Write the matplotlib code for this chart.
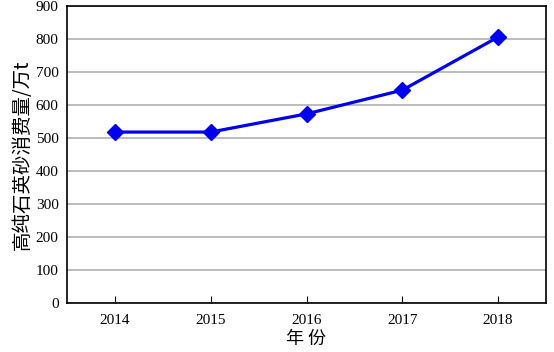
import matplotlib
matplotlib.use("Agg")
import matplotlib.pyplot as plt

years = ["2014", "2015", "2016", "2017", "2018"]
values = [518, 518, 573, 645, 806]
yticks = [0, 100, 200, 300, 400, 500, 600, 700, 800, 900]

plt.rcParams['font.family'] = ['Liberation Serif', 'Noto Sans CJK SC']

fig = plt.figure(figsize=(5.54, 3.52), dpi=100)
ax = fig.add_axes([67/554, 49/352, (546-67)/554, (303-6)/352])
x = list(range(len(years)))
ax.plot(x, values, color='#0000ee', lw=2.3, marker='D', markersize=8, zorder=3)
ax.set_xlim(-0.5, 4.5)
ax.set_ylim(0, 900)
ax.set_yticks(yticks)
ax.set_xticks(x)
ax.set_xticklabels(years)
ax.yaxis.grid(True, color='#b0b0b0', lw=1.2)
ax.set_axisbelow(True)
ax.tick_params(axis='y', length=0, labelsize=11, pad=6)
ax.tick_params(axis='x', direction='in', length=5, labelsize=11, pad=8)
for s in ax.spines.values():
    s.set_linewidth(1.2)
ax.set_xlabel("年 份", family=['Noto Sans CJK SC'], fontsize=13, labelpad=2)
ax.set_ylabel("高纯石英砂消费量/万t", family=['Noto Sans CJK SC', 'Liberation Serif'], fontsize=14, labelpad=2)
fig.savefig("out.png", dpi=100)
